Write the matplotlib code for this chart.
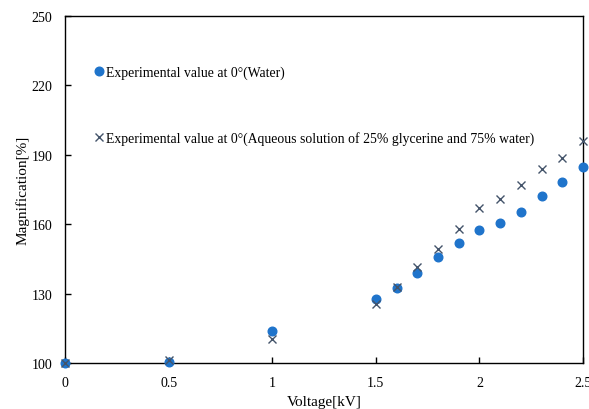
import matplotlib
matplotlib.use("Agg")
import matplotlib.pyplot as plt

plt.rcParams['font.family'] = ['Liberation Serif', 'DejaVu Serif']

voltage = [0, 0.5, 1, 1.5, 1.6, 1.7, 1.8, 1.9, 2.0, 2.1, 2.2, 2.3, 2.4, 2.5]
water = [100, 100.3, 113.8, 127.7, 132.5, 138.8, 146.0, 151.8, 157.4, 160.6, 165.3, 172.4, 178.4, 184.8]
glycerine = [100, 101.5, 110.5, 125.7, 132.9, 141.4, 149.4, 158.1, 166.9, 170.9, 177.1, 183.8, 188.7, 195.9]

label_water = "Experimental value at 0°(Water)"
label_gly = "Experimental value at 0°(Aqueous solution of 25% glycerine and 75% water)"

fig = plt.figure(figsize=(5.89, 4.10), dpi=100)
ax = fig.add_axes([65/589, 1-364/410, (583-65)/589, (364-17)/410])

ax.plot(voltage, water, linestyle='none', marker='o', markersize=6.2,
        color='#1F74CB', markeredgecolor='#1F74CB', label=label_water, clip_on=False, zorder=3)
ax.plot(voltage, glycerine, linestyle='none', marker='x', markersize=5.8,
        markeredgewidth=1.0, color='#44546A', label=label_gly, clip_on=False, zorder=4)

ax.set_xlim(0, 2.5)
ax.set_ylim(100, 250)
ax.set_xticks([0, 0.5, 1, 1.5, 2, 2.5])
ax.set_xticklabels(['0', '0.5', '1', '1.5', '2', '2.5'])
ax.set_yticks([100, 130, 160, 190, 220, 250])

ax.tick_params(axis='both', direction='in', length=4, width=1, labelsize=10,
               top=False, right=False, colors='black')
ax.tick_params(axis='x', pad=9.5)
ax.tick_params(axis='y', pad=9)
for s in ax.spines.values():
    s.set_linewidth(1.0)
    s.set_color('black')

ax.set_xlabel('Voltage[kV]', fontsize=11, labelpad=4.5)
ax.set_ylabel('Magnification[%]', fontsize=11, labelpad=1.5)

leg = ax.legend(loc='upper left', bbox_to_anchor=(0.0585, 0.856), frameon=False,
                fontsize=9.9, labelspacing=3.77, handlelength=0.6, handletextpad=0.18,
                borderaxespad=0, borderpad=0)

fig.savefig('out.png', dpi=100)
